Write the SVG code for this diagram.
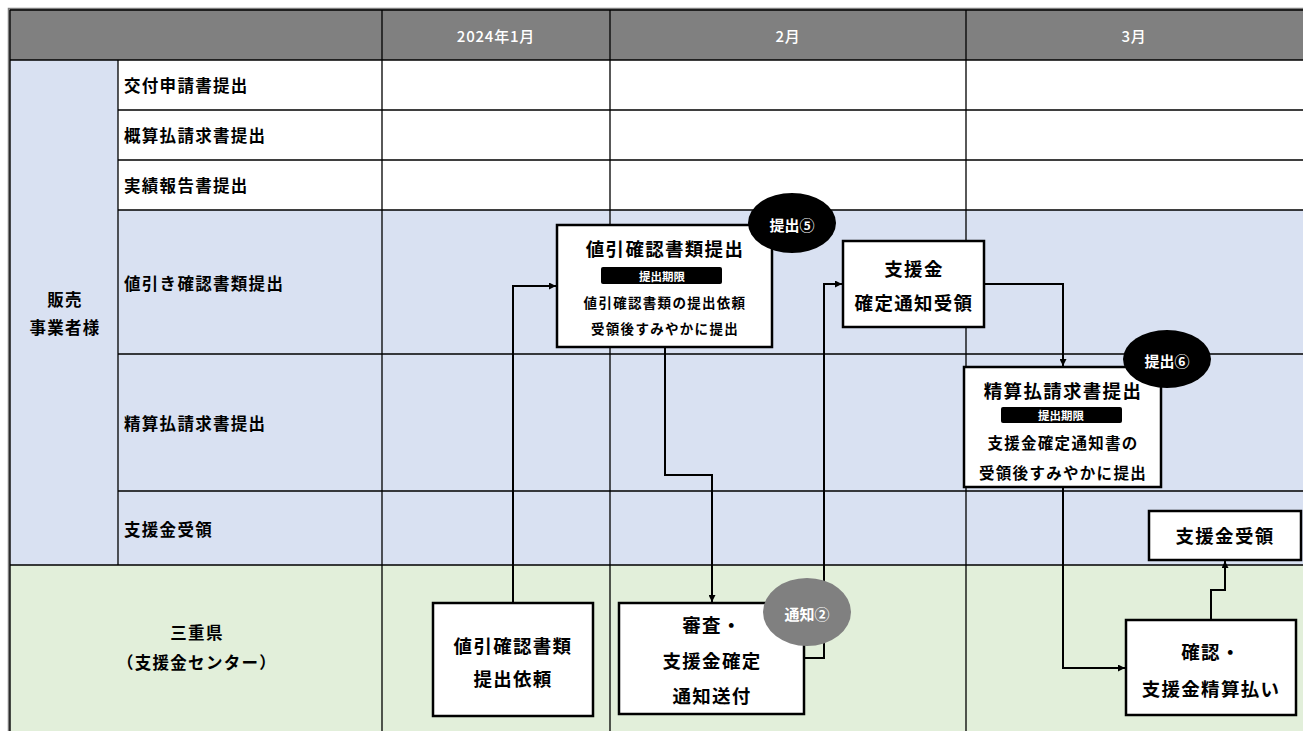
<svg xmlns="http://www.w3.org/2000/svg" width="1303" height="731" viewBox="0 0 1303 731">
<defs>
<style>
text{font-family:"Noto Sans CJK JP","Noto Sans",sans-serif;font-weight:bold;fill:#000;dominant-baseline:central}
.hd{fill:#fff;font-size:15px;letter-spacing:0.8px;text-anchor:middle;font-weight:500}
.rl{font-size:16.5px;letter-spacing:1.3px}
.ln{font-size:16.5px;letter-spacing:1.3px;text-anchor:middle}
.grid{stroke:#000;stroke-width:1.3;fill:none}
.box{fill:#fff;stroke:#000;stroke-width:2.5}
.t18{font-size:18.5px;letter-spacing:1.3px;text-anchor:middle}
.t14{font-size:13.5px;letter-spacing:1.3px;text-anchor:middle}
.t15{font-size:15.5px;letter-spacing:1.3px;text-anchor:middle}
.pill{fill:#000}
.pt{fill:#fff;font-size:11.5px;text-anchor:middle}
.bt{fill:#fff;font-size:15px;text-anchor:middle}
.con{fill:none;stroke:#000;stroke-width:2}
</style>
<marker id="ar" viewBox="0 0 10 10" refX="10" refY="5" markerWidth="7" markerHeight="7" markerUnits="userSpaceOnUse" orient="auto">
<path d="M0,0 L10,5 L0,10 z" fill="#000"/>
</marker>
</defs>

<g id="table">
<rect x="10" y="10" width="1293" height="50" fill="#808080"/>
<rect x="10" y="60" width="108" height="505" fill="#D9E1F2"/>
<rect x="118" y="60" width="1185" height="150" fill="#fff"/>
<rect x="118" y="210" width="1185" height="355" fill="#D9E1F2"/>
<rect x="10" y="565" width="1293" height="166" fill="#E2EFDA"/>
<path d="M9,731 V9 H1303" fill="none" stroke="#7f7f7f" stroke-width="2.5"/>
<path class="grid" d="M10,10 H1303 M10,10 V731 M10,60 H1303 M118,110 H1303 M118,160 H1303 M118,210 H1303 M118,354 H1303 M118,491 H1303 M10,565 H1303 M118,60 V565 M382,10 V731 M610,10 V731 M966,10 V731"/>
<text class="hd" x="496" y="35">2024年1月</text>
<text class="hd" x="788" y="35">2月</text>
<text class="hd" x="1134" y="35">3月</text>
<text class="rl" x="124" y="85">交付申請書提出</text>
<text class="rl" x="124" y="135">概算払請求書提出</text>
<text class="rl" x="124" y="185">実績報告書提出</text>
<text class="rl" x="124" y="283">値引き確認書類提出</text>
<text class="rl" x="124" y="423">精算払請求書提出</text>
<text class="rl" x="124" y="529">支援金受領</text>
<text class="ln" x="65" y="299">販売</text>
<text class="ln" x="65" y="327">事業者様</text>
<text class="ln" x="197" y="632">三重県</text>
<text class="ln" x="197" y="662">（支援金センター）</text>
</g>

<g id="connectors">
<path class="con" d="M513,603 V286 H556" marker-end="url(#ar)"/>
<path class="con" d="M665,347 V475 H712 V602" marker-end="url(#ar)"/>
<path class="con" d="M804,658 H824 V284 H842" marker-end="url(#ar)"/>
<path class="con" d="M984,284 H1063 V366" marker-end="url(#ar)"/>
<path class="con" d="M1063,487 V668 H1125" marker-end="url(#ar)"/>
<path class="con" d="M1211,620 V590 H1225 V561" marker-end="url(#ar)"/>
</g>

<g id="node-nebiki-teishutsu">
<rect class="box" x="557" y="225" width="215" height="122"/>
<text class="t18" x="665" y="248">値引確認書類提出</text>
<rect class="pill" x="601" y="267" width="121" height="17" rx="2"/>
<text class="pt" x="662" y="275.5">提出期限</text>
<text class="t14" x="665" y="302">値引確認書類の提出依頼</text>
<text class="t14" x="665" y="328">受領後すみやかに提出</text>
</g>

<g id="node-kakutei-juryo">
<rect class="box" x="843" y="241" width="141" height="86"/>
<text class="t18" x="914" y="268">支援金</text>
<text class="t18" x="914" y="302">確定通知受領</text>
</g>

<g id="node-seisan-seikyu">
<rect class="box" x="964" y="367" width="197" height="120"/>
<text class="t18" x="1063" y="390">精算払請求書提出</text>
<rect class="pill" x="1001" y="407" width="121" height="16" rx="2"/>
<text class="pt" x="1061" y="415">提出期限</text>
<text class="t15" x="1063" y="442">支援金確定通知書の</text>
<text class="t15" x="1063" y="472">受領後すみやかに提出</text>
</g>

<g id="node-shienkin-juryo">
<rect class="box" x="1149" y="511" width="152" height="49"/>
<text class="t18" x="1225" y="535">支援金受領</text>
</g>

<g id="node-irai">
<rect class="box" x="433" y="603" width="160" height="113"/>
<text class="t18" x="513" y="645">値引確認書類</text>
<text class="t18" x="513" y="678">提出依頼</text>
</g>

<g id="node-shinsa">
<rect class="box" x="619" y="603" width="185" height="111"/>
<text class="t18" x="712" y="624">審査・</text>
<text class="t18" x="712" y="660">支援金確定</text>
<text class="t18" x="712" y="695">通知送付</text>
</g>

<g id="node-kakunin">
<rect class="box" x="1126" y="620" width="170" height="95"/>
<text class="t18" x="1211" y="651">確認・</text>
<text class="t18" x="1211" y="688">支援金精算払い</text>
</g>

<g id="badge-5">
<ellipse cx="792" cy="223" rx="44" ry="30" fill="#000"/>
<text class="bt" x="792" y="224">提出⑤</text>
</g>
<g id="badge-6">
<ellipse cx="1167" cy="359" rx="44" ry="29" fill="#000"/>
<text class="bt" x="1167" y="360">提出⑥</text>
</g>
<g id="badge-2">
<ellipse cx="807" cy="612" rx="44" ry="34" fill="#808080"/>
<text class="bt" x="807" y="613">通知②</text>
</g>
</svg>
